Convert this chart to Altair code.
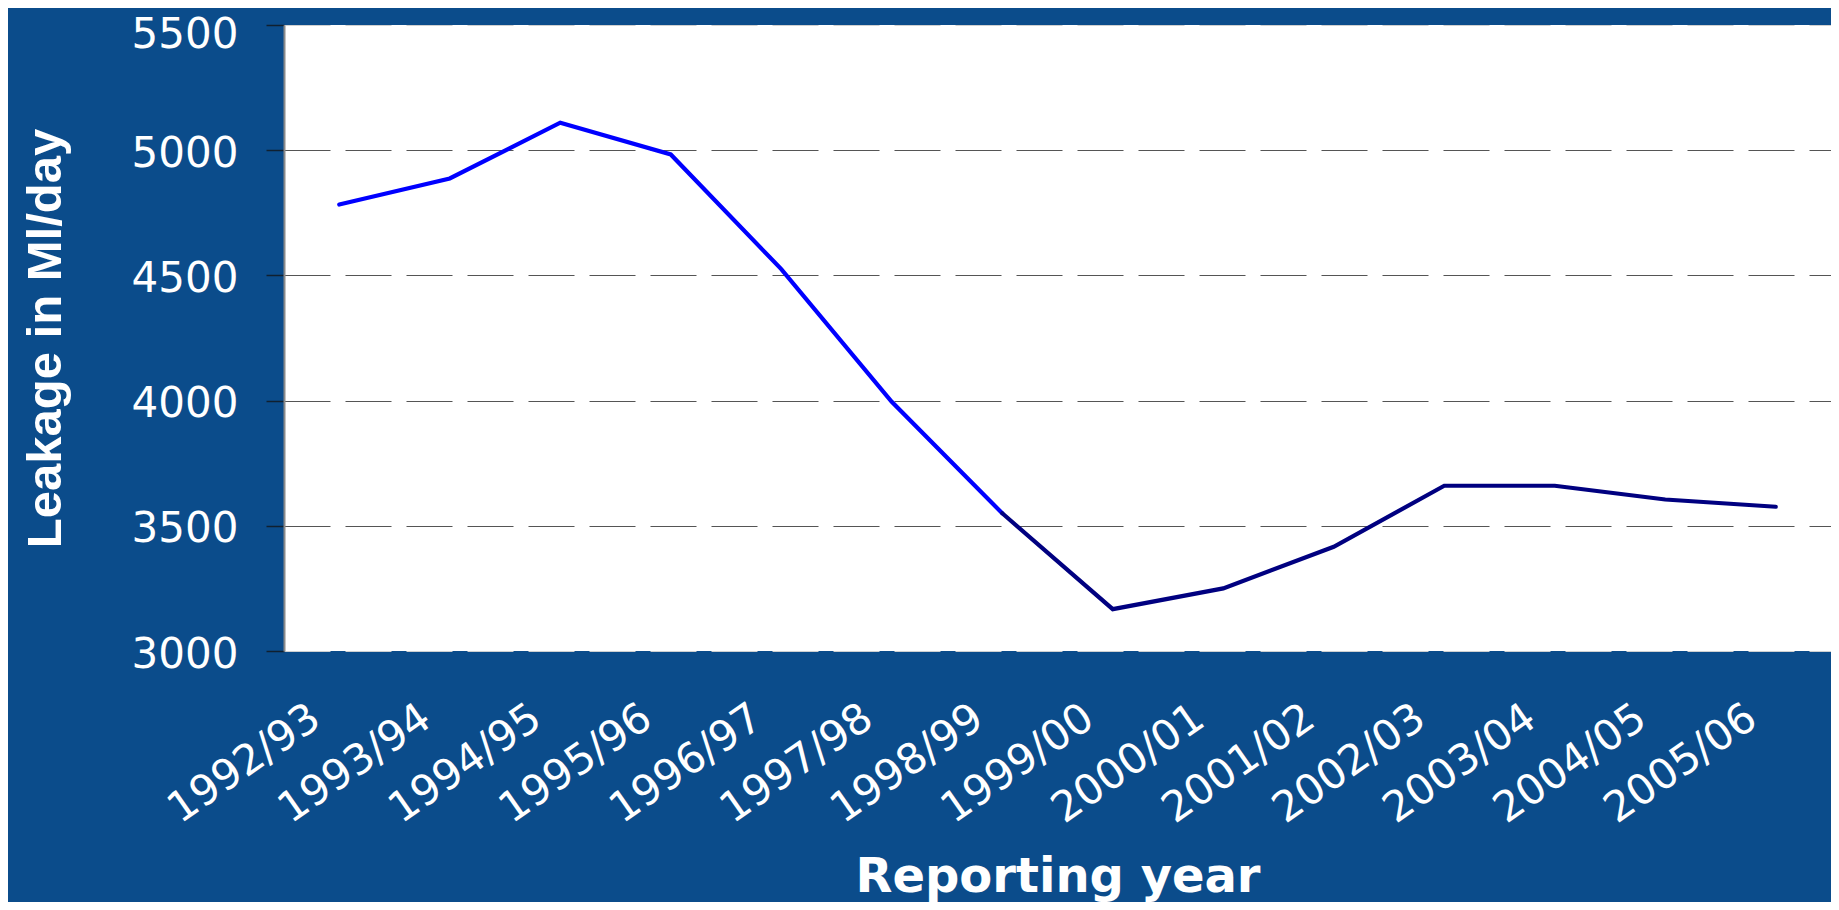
import altair as alt
import pandas as pd

# Reporting years (x categories)
years = ["1992/93", "1993/94", "1994/95", "1995/96", "1996/97", "1997/98", "1998/99",
         "1999/00", "2000/01", "2001/02", "2002/03", "2003/04", "2004/05", "2005/06"]

# Leakage in Ml/day
early_years = ["1992/93", "1993/94", "1994/95", "1995/96", "1996/97", "1997/98", "1998/99"]
early_values = [4783, 4887, 5110, 4983, 4525, 3995, 3550]

late_years = ["1998/99", "1999/00", "2000/01", "2001/02", "2002/03", "2003/04", "2004/05", "2005/06"]
late_values = [3550, 3167, 3250, 3416, 3660, 3660, 3605, 3576]

y_ticks = [3000, 3500, 4000, 4500, 5000, 5500]

df = pd.concat([
    pd.DataFrame({"year": early_years, "value": early_values, "series": "early"}),
    pd.DataFrame({"year": late_years, "value": late_values, "series": "late"}),
], ignore_index=True)

BG = "#0B4C8B"

chart = alt.Chart(df).mark_line(strokeWidth=4.2, strokeCap="round", strokeJoin="miter").encode(
    x=alt.X(
        "year:N",
        sort=years,
        scale=alt.Scale(domain=years, padding=0.5),
        axis=alt.Axis(
            title="Reporting year",
            labelAngle=-35,
            labelAlign="right",
            labelBaseline="middle",
            labelOffset=-24,
            labelPadding=62,
            labelFont="DejaVu Sans",
            labelFontSize=42,
            labelColor="white",
            labelOverlap=False,
            labelBound=False,
            labelFlush=False,
            ticks=False,
            tickSize=0,
            domain=False,
            grid=False,
            titleFont="DejaVu Sans",
            titleFontWeight="bold",
            titleFontSize=48,
            titleColor="white",
            titleY=240,
            titleBaseline="alphabetic",
        ),
    ),
    y=alt.Y(
        "value:Q",
        scale=alt.Scale(domain=[3000, 5500], nice=False, zero=False),
        axis=alt.Axis(
            title="Leakage in Ml/day",
            values=y_ticks,
            format="d",
            tickSize=18,
            tickColor="#102030",
            tickWidth=1.5,
            domainColor="#8a8a8a",
            domainWidth=2,
            labelPadding=28,
            labelOffset={"condition": {"test": "datum.value === 5500", "value": 9}, "value": 3},
            labelFont="DejaVu Sans",
            labelFontSize=42,
            labelColor="white",
            labelBaseline="middle",
            labelBound=False,
            labelFlush=False,
            labelOverlap=False,
            grid=True,
            gridDash=[46, 15],
            gridWidth=1.2,
            gridColor={
                "condition": {"test": "datum.value === 3000 || datum.value === 5500", "value": "#d0d0d0"},
                "value": "#555555",
            },
            titleFont="Liberation Sans",
            titleFontWeight="bold",
            titleFontSize=49,
            titleColor="white",
            titleAngle=270,
            titleX=-224,
            titleY=313,
            titleAlign="center",
            titleBaseline="alphabetic",
        ),
    ),
    color=alt.Color(
        "series:N",
        scale=alt.Scale(domain=["early", "late"], range=["#0000FF", "#000080"]),
        legend=None,
    ),
).properties(
    width=1547,
    height=626,
    background=BG,
    autosize=alt.AutoSizeParams(type="none"),
    padding={"left": 276, "top": 17, "right": 0, "bottom": 251},
).configure_view(fill="white", strokeWidth=0)

chart.save("out.html", embed_options={"renderer": "svg", "actions": False})
